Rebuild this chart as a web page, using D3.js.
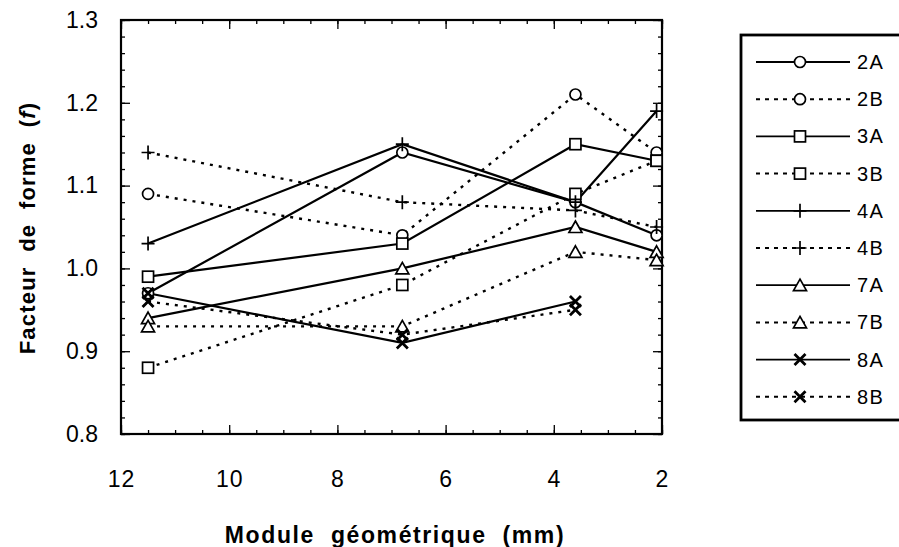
<!DOCTYPE html>
<html><head><meta charset="utf-8">
<script src="https://cdn.jsdelivr.net/npm/d3@7"></script>
<style>body{margin:0;background:#fff} text{white-space:pre}</style>
</head><body>
<svg id="c" width="899" height="547"></svg>
<script>
const xs = [11.5, 6.8, 3.6, 2.1];
const s2A = [0.97, 1.14, 1.08, 1.04];
const s2B = [1.09, 1.04, 1.21, 1.14];
const s3A = [0.99, 1.03, 1.15, 1.13];
const s3B = [0.88, 0.98, 1.09, 1.13];
const s4A = [1.03, 1.15, 1.08, 1.19];
const s4B = [1.14, 1.08, 1.07, 1.05];
const s7A = [0.94, 1.00, 1.05, 1.02];
const s7B = [0.93, 0.93, 1.02, 1.01];
const s8A = [0.97, 0.91, 0.96];
const s8B = [0.96, 0.92, 0.95];
const seriesNames = ["2A","2B","3A","3B","4A","4B","7A","7B","8A","8B"];
const seriesVals = [s2A,s2B,s3A,s3B,s4A,s4B,s7A,s7B,s8A,s8B];
const seriesMarkers = ["circle","circle","square","square","plus","plus","triangle","triangle","cross","cross"];
const xTicks = [12,10,8,6,4,2];
const yTicks = [0.8,0.9,1.0,1.1,1.2,1.3];

const svg = d3.select("#c");
const L=121, R=662, T=20, B=434;
const x = d3.scaleLinear().domain([12,2]).range([L,R]);
const y = d3.scaleLinear().domain([0.8,1.3]).range([B,T]);
const font = "'Liberation Sans', Arial, Helvetica, sans-serif";

const xMinor = d3.range(0,21).map(i=>12-i*0.5);
const yMinor = d3.range(0,26).map(i=>0.8+i*0.02);
function tickAxes(){
  const gB = svg.append("g").attr("transform",`translate(0,${B})`);
  gB.call(d3.axisBottom(x).tickValues(xMinor).tickSize(-4).tickFormat(""));
  gB.append("g").call(d3.axisBottom(x).tickValues(xTicks).tickSize(-9).tickFormat(""));
  const gT = svg.append("g").attr("transform",`translate(0,${T})`);
  gT.call(d3.axisTop(x).tickValues(xMinor).tickSize(-4).tickFormat(""));
  gT.append("g").call(d3.axisTop(x).tickValues(xTicks).tickSize(-9).tickFormat(""));
  const gL = svg.append("g").attr("transform",`translate(${L},0)`);
  gL.call(d3.axisLeft(y).tickValues(yMinor).tickSize(-4).tickFormat(""));
  gL.append("g").call(d3.axisLeft(y).tickValues(yTicks).tickSize(-9).tickFormat(""));
  const gR = svg.append("g").attr("transform",`translate(${R},0)`);
  gR.call(d3.axisRight(y).tickValues(yMinor).tickSize(-4).tickFormat(""));
  gR.append("g").call(d3.axisRight(y).tickValues(yTicks).tickSize(-9).tickFormat(""));
  svg.selectAll(".domain").remove();
  svg.selectAll(".tick line").attr("stroke","#000").attr("stroke-width",1.3);
}
tickAxes();

const lx = svg.append("g").attr("transform",`translate(0,${B})`)
  .call(d3.axisBottom(x).tickValues(xTicks).tickSize(0).tickPadding(37).tickFormat(d3.format("d")));
lx.select(".domain").remove();
lx.selectAll("text").attr("font-family",font).attr("font-size",23).attr("letter-spacing",1).attr("fill","#000");
const ly = svg.append("g").attr("transform",`translate(${L},0)`)
  .call(d3.axisLeft(y).tickValues(yTicks).tickSize(0).tickPadding(23).tickFormat(d3.format(".1f")));
ly.select(".domain").remove();
ly.selectAll("text").attr("font-family",font).attr("font-size",23).attr("fill","#000");

svg.append("rect").attr("x",L).attr("y",T).attr("width",R-L).attr("height",B-T)
  .attr("fill","none").attr("stroke","#000").attr("stroke-width",2.2);

svg.append("text").attr("x",395).attr("y",543).attr("text-anchor","middle")
  .attr("font-family",font).attr("font-weight","bold").attr("font-size",23).attr("letter-spacing",1.6)
  .text("Module  géométrique  (mm)");
const yt = svg.append("text").attr("transform","translate(35,228) rotate(-90)").attr("text-anchor","middle")
  .attr("font-family",font).attr("font-weight","bold").attr("font-size",22).attr("letter-spacing",1.2);
yt.append("tspan").text("Facteur  de  forme  (");
yt.append("tspan").attr("font-style","italic").text("f");
yt.append("tspan").text(")");

function marker(g, type, cx, cy){
  const sw = 1.7;
  if(type==="circle") g.append("circle").attr("cx",cx).attr("cy",cy).attr("r",5.5).attr("fill","#fff").attr("stroke","#000").attr("stroke-width",sw);
  else if(type==="square") g.append("rect").attr("x",cx-5.5).attr("y",cy-5.5).attr("width",11).attr("height",11).attr("fill","#fff").attr("stroke","#000").attr("stroke-width",sw);
  else if(type==="triangle") g.append("path").attr("d",`M${cx},${cy-6}L${cx+6.5},${cy+5.5}L${cx-6.5},${cy+5.5}Z`).attr("fill","#fff").attr("stroke","#000").attr("stroke-width",sw);
  else if(type==="plus") g.append("path").attr("d",`M${cx-6.5},${cy}H${cx+6.5}M${cx},${cy-7}V${cy+7}`).attr("stroke","#000").attr("stroke-width",sw).attr("fill","none");
  else if(type==="cross") g.append("path").attr("d",`M${cx-5.5},${cy-5.5}L${cx+5.5},${cy+5.5}M${cx+5.5},${cy-5.5}L${cx-5.5},${cy+5.5}`).attr("stroke","#000").attr("stroke-width",2.8).attr("fill","none");
}

const line = d3.line().x(d=>x(d[0])).y(d=>y(d[1]));
const plot = svg.append("g");
seriesVals.forEach((vals,i)=>{
  const pts = vals.map((v,j)=>[xs[j],v]);
  const dotted = seriesNames[i].endsWith("B");
  plot.append("path").datum(pts).attr("d",line).attr("fill","none").attr("stroke","#000")
    .attr("stroke-width",dotted?2.4:2.2).attr("stroke-dasharray",dotted?"3,6":null);
});
seriesVals.forEach((vals,i)=>{
  vals.forEach((v,j)=>marker(plot, seriesMarkers[i], x(xs[j]), y(v)));
});

const lg = svg.append("g");
lg.append("rect").attr("x",741).attr("y",35).attr("width",170).attr("height",385)
  .attr("fill","#fff").attr("stroke","#000").attr("stroke-width",2.8);
seriesNames.forEach((n,i)=>{
  const yy = 62 + i*37.2;
  const dotted = n.endsWith("B");
  lg.append("line").attr("x1",756).attr("x2",850).attr("y1",yy).attr("y2",yy)
    .attr("stroke","#000").attr("stroke-width",dotted?2:1.8).attr("stroke-dasharray",dotted?"4,5":null);
  marker(lg, seriesMarkers[i], 800, yy);
  lg.append("text").attr("x",857).attr("y",yy+7).attr("font-family",font).attr("font-size",20).attr("letter-spacing",1.5).text(n);
});
</script>
</body></html>
